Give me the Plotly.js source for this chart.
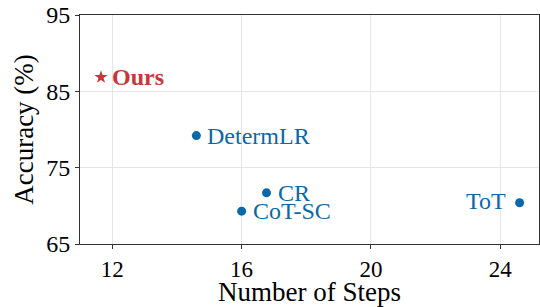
<!DOCTYPE html>
<html><head><meta charset="utf-8">
<script src="https://cdn.plot.ly/plotly-3.0.1.min.js"></script>
<style>html,body{margin:0;padding:0;background:#fff}#c{width:540px;height:307px}</style>
</head><body><div id="c"></div>
<script>
const methods = ["Ours", "DetermLR", "CR", "CoT-SC", "ToT"];
const steps = [11.65, 14.6, 16.77, 16.0, 24.6];
const accuracy = [86.85, 79.2, 71.7, 69.3, 70.4];
const xTicks = [12, 16, 20, 24];
const yTicks = [65, 75, 85, 95];

const blue = "#0b68a8", red = "#c8363c";
const font = "Liberation Serif";

const traces = [
  {x: [steps[0]], y: [accuracy[0]], mode: "markers", type: "scatter",
   marker: {symbol: "star", size: 10, color: red}, hoverinfo: "skip"},
  {x: steps.slice(1), y: accuracy.slice(1), mode: "markers", type: "scatter",
   marker: {symbol: "circle", size: 9, color: blue}, hoverinfo: "skip"}
];
const anns = methods.map((m, i) => {
  const left = m !== "ToT";
  return {
    x: steps[i], y: accuracy[i], xref: "x", yref: "y",
    text: m === "Ours" ? "<b>Ours</b>" : m,
    showarrow: false, xanchor: left ? "left" : "right", yanchor: "middle",
    xshift: left ? 9 : -12, yshift: m === "ToT" ? 2 : 0,
    font: {family: font, size: 24, color: m === "Ours" ? red : blue}
  };
});
const layout = {
  width: 540, height: 307,
  margin: {l: 80, r: 1, t: 15, b: 63},
  paper_bgcolor: "#fff", plot_bgcolor: "#fff",
  showlegend: false,
  font: {family: font, color: "#000"},
  xaxis: {range: [11, 25.2], tickvals: xTicks, ticks: "outside", ticklen: 4, tickcolor: "#333",
    showline: true, linecolor: "#333", linewidth: 1, mirror: true,
    showgrid: true, gridcolor: "#e6e6e6", zeroline: false,
    tickfont: {family: font, size: 23},
    title: {text: "Number of Steps", font: {family: font, size: 27}, standoff: 3}},
  yaxis: {range: [65, 95], tickvals: yTicks, ticks: "outside", ticklen: 4, tickcolor: "#333",
    showline: true, linecolor: "#333", linewidth: 1, mirror: true,
    showgrid: true, gridcolor: "#e6e6e6", zeroline: false,
    tickfont: {family: font, size: 24},
    title: {text: "Accuracy (%)", font: {family: font, size: 27}, standoff: 4}},
  annotations: anns
};
Plotly.newPlot("c", traces, layout, {displayModeBar: false, staticPlot: true});
</script></body></html>
